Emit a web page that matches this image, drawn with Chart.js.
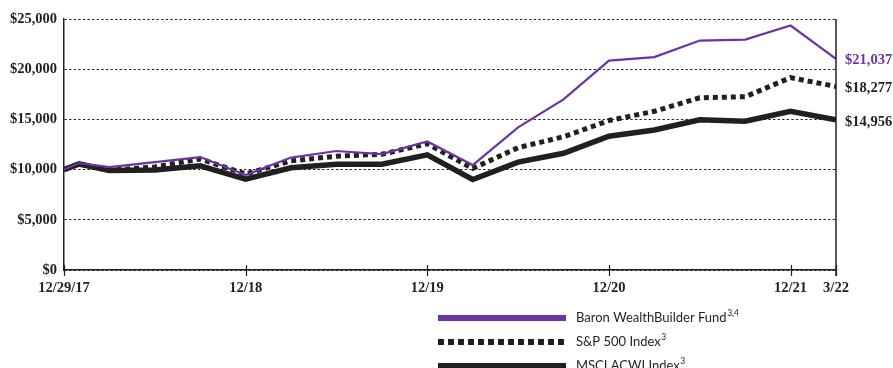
<!DOCTYPE html>
<html>
<head>
<meta charset="utf-8">
<script src="https://cdn.jsdelivr.net/npm/chart.js@4/dist/chart.umd.min.js"></script>
<style>
  html, body { margin: 0; padding: 0; background: #ffffff; overflow: hidden; }
  #wrap { position: relative; width: 893px; height: 368px; }
  canvas { display: block; }
</style>
</head>
<body>
<div id="wrap"><canvas id="growth" width="893" height="368"></canvas></div>
<script>
// Months elapsed since 12/29/17 for each valuation date
const months = [0, 1, 3, 6, 9, 12, 15, 18, 21, 24, 27, 30, 33, 36, 39, 42, 45, 48, 51];

// Growth of a $10,000 investment
const fundValues = [10000, 10650, 10250, 10750, 11250, 9450, 11200, 11850, 11550, 12800,
                    10450, 14200, 17000, 20850, 21200, 22850, 22950, 24350, 21037];
const sp500Values = [10000, 10570, 9924, 10265, 11056, 9562, 10867, 11335, 11527, 12573,
                     10109, 12186, 13274, 14887, 15806, 17158, 17257, 19160, 18277];
const acwiValues = [10000, 10560, 9904, 9957, 10381, 9059, 10176, 10537, 10534, 11468,
                    9017, 10750, 11624, 13330, 13940, 14970, 14813, 15802, 14956];

const seriesNames = ['Baron WealthBuilder Fund', 'S&P 500 Index', 'MSCI ACWI Index'];
const seriesNotes = ['3,4', '3', '3'];

// x-axis tick positions (months) and their labels
const tickMonths = [0, 12, 24, 36, 48, 51];
const tickLabels = ['12/29/17', '12/18', '12/19', '12/20', '12/21', '3/22'];

const PURPLE = '#6a35a2';
const INK = '#231f20';
const SERIF = '"Liberation Serif", "DejaVu Serif", serif';
const SANS = 'Lato, "Open Sans", sans-serif';

const toPoints = vals => vals.map((v, i) => ({ x: months[i], y: v }));
const money = v => '$' + v.toLocaleString('en-US');

const datasets = [
  { label: seriesNames[0], data: toPoints(fundValues), borderColor: PURPLE,
    borderWidth: 2.2, labelColor: PURPLE, sample: { width: 6, dash: [] } },
  { label: seriesNames[1], data: toPoints(sp500Values), borderColor: INK,
    borderWidth: 5, borderDash: [5, 4], borderCapStyle: 'butt', labelColor: INK,
    sample: { width: 6, dash: [6, 4] } },
  { label: seriesNames[2], data: toPoints(acwiValues), borderColor: INK,
    borderWidth: 5.5, labelColor: INK, sample: { width: 6, dash: [] } }
].map(d => Object.assign({ pointRadius: 0, tension: 0, fill: false,
                           borderJoinStyle: 'miter' }, d));

// Frame, tick marks, end-of-series values and the legend
const decorations = {
  id: 'decorations',
  afterDraw(chart) {
    const { ctx, chartArea: a, scales: { x, y } } = chart;
    ctx.save();
    // right-hand frame line
    ctx.strokeStyle = INK;
    ctx.lineWidth = 1.5;
    ctx.beginPath();
    ctx.moveTo(a.right, a.top);
    ctx.lineTo(a.right, a.bottom + 6);
    ctx.stroke();
    // tick marks crossing the date axis
    tickMonths.forEach(m => {
      const px = Math.round(x.getPixelForValue(m)) + 0.5;
      ctx.beginPath();
      ctx.lineWidth = 1.2;
      ctx.moveTo(px, a.bottom - 5);
      ctx.lineTo(px, a.bottom + 6);
      ctx.stroke();
    });
    // final values beside the last points
    ctx.font = 'bold 14.5px ' + SERIF;
    ctx.textAlign = 'left';
    ctx.textBaseline = 'middle';
    chart.data.datasets.forEach((ds, i) => {
      const last = ds.data[ds.data.length - 1];
      ctx.fillStyle = ds.labelColor;
      ctx.fillText(money(last.y), a.right + 9, y.getPixelForValue(last.y) + 1 + i * 0.8);
    });
    // legend
    const rows = [318, 342, 366];
    chart.data.datasets.forEach((ds, i) => {
      const ry = rows[i];
      ctx.strokeStyle = ds.borderColor;
      ctx.lineWidth = ds.sample.width;
      ctx.lineCap = 'butt';
      ctx.setLineDash(ds.sample.dash);
      ctx.beginPath();
      ctx.moveTo(438, ry);
      ctx.lineTo(566, ry);
      ctx.stroke();
      ctx.setLineDash([]);
      ctx.fillStyle = INK;
      ctx.font = '13px ' + SANS;
      ctx.textBaseline = 'middle';
      ctx.fillText(ds.label, 576, ry);
      const w = ctx.measureText(ds.label).width;
      ctx.font = '8.5px ' + SANS;
      ctx.fillText(seriesNotes[i], 576 + w + 0.5, ry - 5);
    });
    ctx.restore();
  }
};

new Chart(document.getElementById('growth'), {
  type: 'line',
  data: { datasets },
  options: {
    responsive: false,
    devicePixelRatio: 1,
    animation: false,
    layout: { padding: { left: 0, right: 57, top: 19, bottom: 0 } },
    plugins: { legend: { display: false }, tooltip: { enabled: false } },
    scales: {
      x: {
        type: 'linear',
        min: 0,
        max: 51,
        afterBuildTicks: s => { s.ticks = tickMonths.map(v => ({ value: v })); },
        afterFit: s => { s.height = 98; },
        grid: { display: false, drawTicks: false },
        border: { display: true, color: INK, width: 1.5 },
        ticks: {
          autoSkip: false, maxRotation: 0, padding: 10, color: INK,
          font: { family: SERIF, size: 14.5, weight: 'bold' },
          callback: v => tickLabels[tickMonths.indexOf(v)]
        }
      },
      y: {
        min: 0,
        max: 25000,
        afterFit: s => { s.width = 64; },
        grid: { color: '#262626', lineWidth: 1, drawTicks: false },
        border: { display: true, color: INK, width: 1.5, dash: [2.4, 2.2] },
        ticks: {
          stepSize: 5000, padding: 7, color: INK,
          font: { family: SERIF, size: 14.5, weight: 'bold' },
          callback: v => money(v)
        }
      }
    }
  },
  plugins: [decorations]
});
</script>
</body>
</html>
